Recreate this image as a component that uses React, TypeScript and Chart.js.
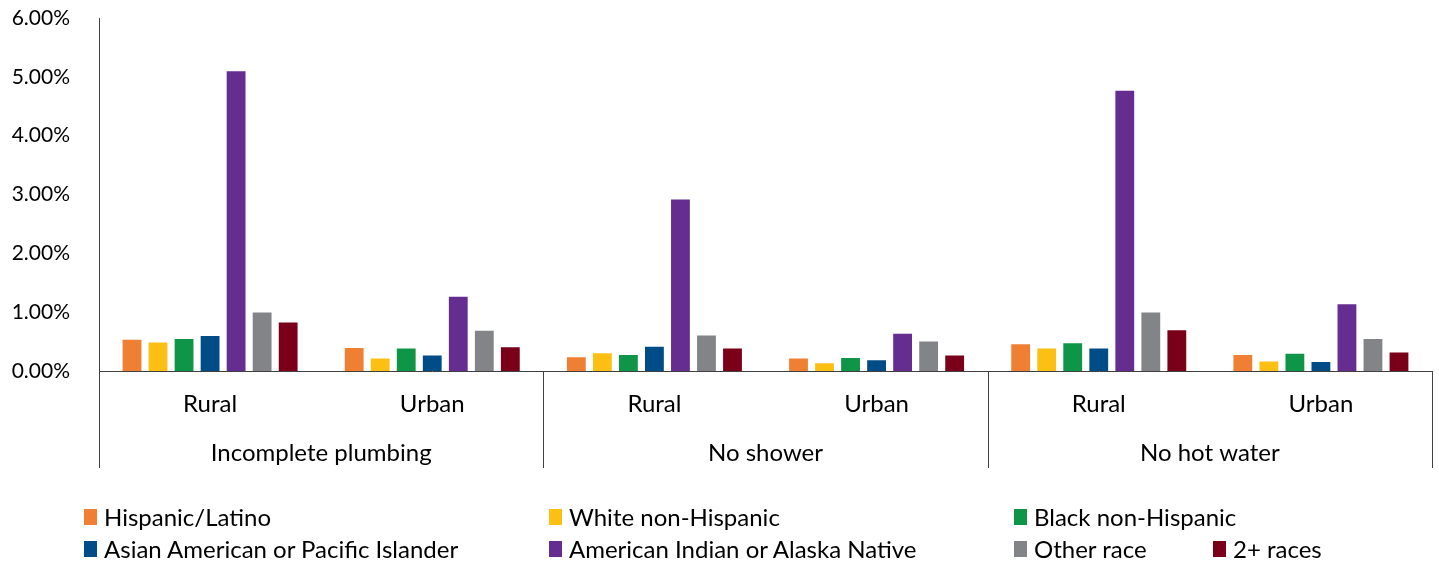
import React, { useEffect, useRef } from "react";
import { Chart, registerables } from "chart.js";

Chart.register(...registerables);

const categories = ["Rural", "Urban", "Rural", "Urban", "Rural", "Urban"];
const groups = ["Incomplete plumbing", "No shower", "No hot water"];
const yTicks = [0, 1, 2, 3, 4, 5, 6];

const hispanic = [0.55, 0.41, 0.25, 0.23, 0.47, 0.29];
const whiteNH = [0.5, 0.23, 0.32, 0.15, 0.4, 0.18];
const blackNH = [0.56, 0.4, 0.29, 0.24, 0.49, 0.31];
const asianPI = [0.61, 0.28, 0.43, 0.2, 0.4, 0.17];
const amIndian = [5.11, 1.28, 2.93, 0.65, 4.78, 1.15];
const otherRace = [1.01, 0.7, 0.62, 0.52, 1.01, 0.56];
const twoPlus = [0.84, 0.42, 0.4, 0.28, 0.71, 0.33];

const seriesNames = [
  "Hispanic/Latino",
  "White non-Hispanic",
  "Black non-Hispanic",
  "Asian American or Pacific Islander",
  "American Indian or Alaska Native",
  "Other race",
  "2+ races",
];
const seriesColors = ["#EF7F32", "#FCC015", "#0E9547", "#004C86", "#652D8F", "#838487", "#7A0019"];
const seriesValues = [hispanic, whiteNH, blackNH, asianPI, amIndian, otherRace, twoPlus];

const FONT = "Lato, 'Open Sans', sans-serif";
const LABEL_SIZE = 24;

// Legend grid: row / column placement of each series entry
const legendSlots = [
  { left: 84, top: 506 },
  { left: 549, top: 506 },
  { left: 1014, top: 506 },
  { left: 84, top: 538 },
  { left: 549, top: 538 },
  { left: 1014, top: 538 },
  { left: 1213, top: 538 },
];

// Draws the outer category level (group names) with separator lines
const groupAxisPlugin = {
  id: "groupAxis",
  afterDraw(chart: any) {
    const x = chart.scales.x;
    const ctx = chart.ctx;
    const top = chart.chartArea.bottom;
    const bottom = top + 97;
    const per = categories.length / groups.length;
    const edges: number[] = [];
    for (let g = 0; g <= groups.length; g++) {
      if (g === 0) edges.push(x.left);
      else if (g === groups.length) edges.push(x.right);
      else edges.push((x.getPixelForValue(g * per - 1) + x.getPixelForValue(g * per)) / 2);
    }
    ctx.save();
    ctx.strokeStyle = "#404040";
    ctx.lineWidth = 1;
    edges.forEach((e) => {
      const px = Math.round(e) + 0.5;
      ctx.beginPath();
      ctx.moveTo(px, top);
      ctx.lineTo(px, bottom);
      ctx.stroke();
    });
    ctx.fillStyle = "#000";
    ctx.font = `${LABEL_SIZE}px ${FONT}`;
    ctx.textAlign = "center";
    ctx.textBaseline = "middle";
    groups.forEach((name, i) => {
      ctx.fillText(name, (edges[i] + edges[i + 1]) / 2, top + 82);
    });
    ctx.restore();
  },
};

export default function App() {
  const canvasRef = useRef<HTMLCanvasElement | null>(null);

  useEffect(() => {
    document.body.style.margin = "0";
    const canvas = canvasRef.current;
    if (!canvas) return;
    const chart = new Chart(canvas, {
      type: "bar",
      data: {
        labels: categories,
        datasets: seriesNames.map((name, i) => ({
          label: name,
          data: seriesValues[i],
          backgroundColor: seriesColors[i],
          borderColor: "#ffffff",
          borderWidth: 1,
          barPercentage: 0.8,
          categoryPercentage: 0.82,
        })),
      },
      options: {
        animation: false,
        responsive: false,
        maintainAspectRatio: false,
        layout: { padding: { top: 18, right: 7, left: 0, bottom: 0 } },
        plugins: {
          legend: { display: false },
          tooltip: { enabled: false },
        },
        scales: {
          x: {
            grid: { display: false },
            border: { display: true, color: "#404040", width: 1 },
            ticks: {
              color: "#000",
              font: { family: FONT, size: LABEL_SIZE },
              padding: 11,
              maxRotation: 0,
            },
            afterFit(scale: any) {
              scale.height = 191;
              scale.paddingLeft = 0;
              scale.paddingRight = 0;
            },
          },
          y: {
            min: 0,
            max: 6,
            afterBuildTicks(scale: any) {
              scale.ticks = yTicks.map((v) => ({ value: v }));
            },
            grid: { display: false },
            border: { display: true, color: "#404040", width: 1 },
            ticks: {
              color: "#000",
              font: { family: FONT, size: 21 },
              padding: 21,
              callback: (v: any) => Number(v).toFixed(2) + "%",
            },
            afterFit(scale: any) {
              scale.width = 99;
              scale.paddingTop = 0;
              scale.paddingBottom = 0;
            },
          },
        },
      },
      plugins: [groupAxisPlugin],
    });
    return () => chart.destroy();
  }, []);

  return (
    <div style={{ position: "relative", width: 1439, height: 562, fontFamily: FONT, background: "#fff" }}>
      <canvas ref={canvasRef} width={1439} height={562} style={{ position: "absolute", left: 0, top: 0 }} />
      {seriesNames.map((name, i) => (
        <div
          key={name}
          style={{
            position: "absolute",
            left: legendSlots[i].left,
            top: legendSlots[i].top,
            display: "flex",
            alignItems: "center",
            fontSize: LABEL_SIZE,
            color: "#000",
            whiteSpace: "nowrap",
            lineHeight: "22px",
          }}
        >
          <span style={{ display: "inline-block", width: 13, height: 16, background: seriesColors[i], marginRight: 7 }} />
          {name}
        </div>
      ))}
    </div>
  );
}
